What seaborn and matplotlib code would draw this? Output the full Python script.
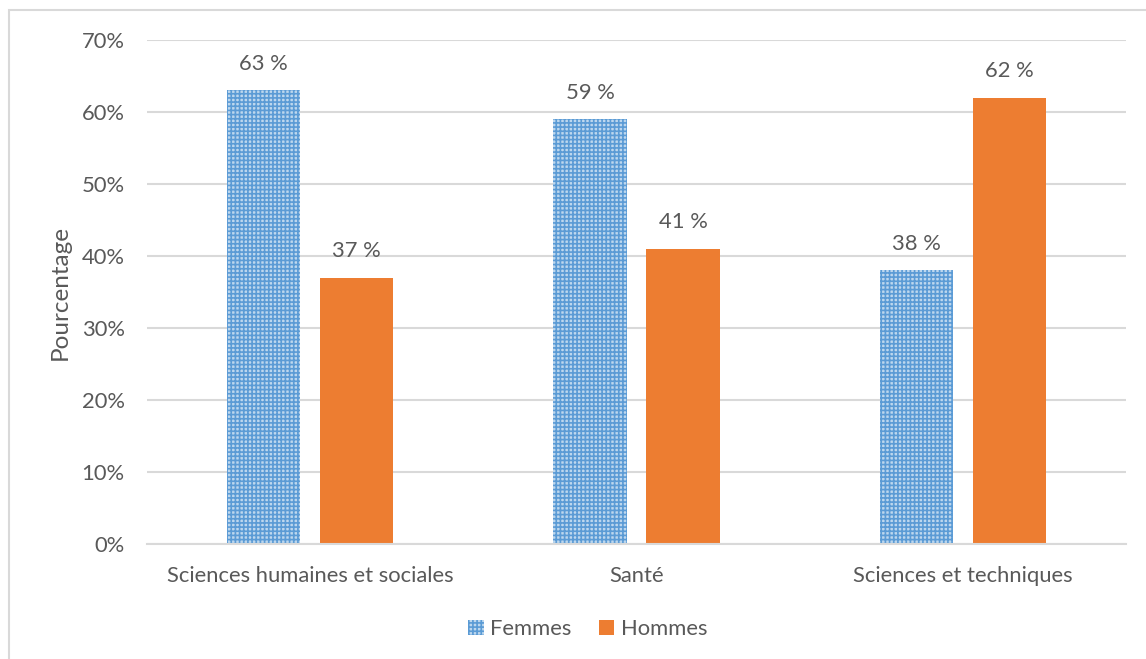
import matplotlib
matplotlib.use("Agg")
import matplotlib.pyplot as plt
from matplotlib.patches import Rectangle, Patch
import seaborn as sns
import pandas as pd

categories = ["Sciences humaines et sociales", "Santé", "Sciences et techniques"]
femmes = [63, 59, 38]
hommes = [37, 41, 62]
series_names = ["Femmes", "Hommes"]
y_ticks = [0, 10, 20, 30, 40, 50, 60, 70]

sns.set_theme(style="white")
plt.rcParams["font.family"] = ["Lato", "DejaVu Sans"]
plt.rcParams["hatch.linewidth"] = 1.2

text_color = "#595959"
grid_color = "#D9D9D9"
blue = "#5B9BD5"
orange = "#ED7D31"
fs = 15.8

df = pd.DataFrame({
    "cat": categories * 2,
    "val": femmes + hommes,
    "serie": [series_names[0]] * 3 + [series_names[1]] * 3,
})

fig = plt.figure(figsize=(11.46, 6.59), dpi=100)
ax = fig.add_axes([0.1283, 0.1745, 0.8542, 0.7648])

sns.barplot(data=df, x="cat", y="val", hue="serie", order=categories,
            hue_order=series_names, palette=[blue, orange], width=0.57,
            gap=0.214, ax=ax, legend=False, saturation=1)

bars = ax.patches
for b in bars[:3]:
    b.set_facecolor("#BDD7EE")
    b.set_edgecolor(blue)
    b.set_hatch("++++")
    b.set_linewidth(0)
for b in bars[3:]:
    b.set_linewidth(0)

for b, v in zip(bars, femmes + hommes):
    ax.annotate(f"{v} %", (b.get_x() + b.get_width() / 2, b.get_height()),
                xytext=(0, 19), textcoords="offset points", ha="center",
                va="center", fontsize=fs, color=text_color)

ax.set_ylim(0, 70)
ax.set_xlim(-0.5, 2.5)
ax.set_yticks(y_ticks)
ax.set_yticklabels([f"{t}%" for t in y_ticks])
ax.yaxis.grid(True, color=grid_color, linewidth=1.5)
ax.set_axisbelow(True)
for s in ["top", "right", "left"]:
    ax.spines[s].set_visible(False)
ax.spines["bottom"].set_color(grid_color)
ax.spines["bottom"].set_linewidth(1.5)
ax.tick_params(axis="both", length=0, labelsize=fs, labelcolor=text_color)
ax.tick_params(axis="y", pad=16)
ax.tick_params(axis="x", pad=16)
ax.set_xlabel("")
ax.set_ylabel("Pourcentage", fontsize=17.5, color=text_color, labelpad=8)

handles = [Patch(facecolor="#BDD7EE", edgecolor=blue, hatch="++++", linewidth=0,
                 label=series_names[0]),
           Patch(facecolor=orange, linewidth=0, label=series_names[1])]
fig.legend(handles=handles, loc="center", bbox_to_anchor=(0.513, 1 - 629 / 659),
           ncol=2, frameon=False, fontsize=fs, handlelength=0.7,
           handleheight=0.7, handletextpad=0.3, columnspacing=1.25,
           labelcolor=text_color)

fig.patches.append(Rectangle((9 / 1146, -0.05), 1.2, 1 - 10 / 659 + 0.05,
                             transform=fig.transFigure, fill=False,
                             edgecolor=grid_color, linewidth=1.5))

fig.savefig("out.png", dpi=100)
